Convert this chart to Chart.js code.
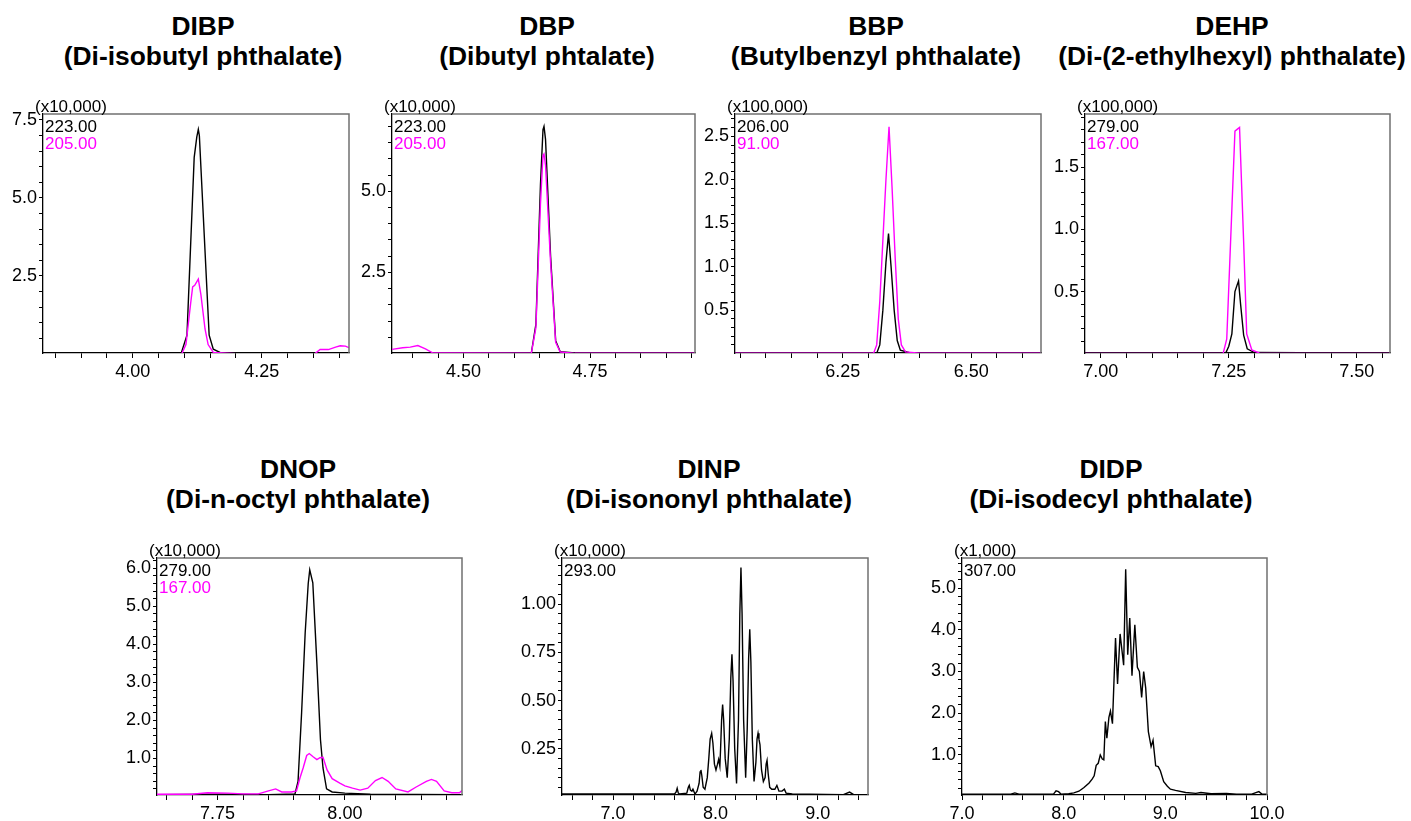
<!DOCTYPE html>
<html><head><meta charset="utf-8">
<script src="https://cdn.jsdelivr.net/npm/chart.js@4.4.1/dist/chart.umd.min.js"></script>
<style>
html,body{margin:0;padding:0;background:#fff;}
body{width:1411px;height:821px;position:relative;overflow:hidden;font-family:"Liberation Sans",Arial,sans-serif;}
.title{position:absolute;font-weight:bold;font-size:26.4px;line-height:30px;text-align:center;white-space:nowrap;transform:translateX(-50%);color:#000;}
.box{position:absolute;}
</style></head><body>
<script>
// ---------------- DATA (retention time [min], intensity [x multiplier]) ----------------
const DIBP_223 = [[3.826,0.02],[4.000,0.02],[4.094,0.03],[4.105,0.6],[4.119,6.3],[4.124,6.95],[4.127,7.2],[4.129,7.0],[4.148,0.6],[4.156,0.15],[4.169,0.05],[4.200,0.02],[4.419,0.02]];
const DIBP_205 = [[3.826,0.01],[4.095,0.01],[4.103,0.3],[4.112,1.6],[4.116,2.15],[4.120,2.2],[4.127,2.4],[4.132,1.9],[4.140,0.8],[4.146,0.3],[4.156,0.05],[4.200,0.01],[4.353,0.01],[4.363,0.14],[4.379,0.14],[4.393,0.22],[4.402,0.26],[4.412,0.25],[4.419,0.2]];
const DBP_223 = [[4.359,0.01],[4.634,0.02],[4.643,0.9],[4.652,5.2],[4.657,6.9],[4.659,7.0],[4.662,6.6],[4.672,3.0],[4.682,0.4],[4.691,0.06],[4.720,0.02],[4.957,0.01]];
const DBP_205 = [[4.359,0.13],[4.380,0.18],[4.395,0.2],[4.410,0.25],[4.425,0.15],[4.440,0.02],[4.634,0.01],[4.643,0.8],[4.652,4.6],[4.657,6.1],[4.659,6.15],[4.662,5.8],[4.672,2.8],[4.682,0.35],[4.691,0.05],[4.720,0.01],[4.957,0.01]];
const BBP_206 = [[6.040,0.003],[6.316,0.003],[6.322,0.1],[6.328,0.5],[6.334,1.05],[6.339,1.38],[6.344,1.0],[6.350,0.5],[6.356,0.15],[6.362,0.04],[6.380,0.01],[6.636,0.003]];
const BBP_91 = [[6.040,0.005],[6.310,0.005],[6.316,0.1],[6.322,0.6],[6.328,1.3],[6.334,2.0],[6.340,2.61],[6.346,1.9],[6.352,1.1],[6.358,0.4],[6.364,0.1],[6.372,0.02],[6.400,0.005],[6.636,0.005]];
const DEHP_279 = [[6.969,0.005],[7.244,0.005],[7.250,0.06],[7.256,0.16],[7.262,0.5],[7.266,0.55],[7.269,0.585],[7.273,0.4],[7.279,0.15],[7.286,0.04],[7.300,0.01],[7.565,0.005]];
const DEHP_167 = [[6.969,0.003],[7.239,0.003],[7.246,0.12],[7.262,1.79],[7.265,1.80],[7.271,1.82],[7.279,0.9],[7.285,0.16],[7.295,0.03],[7.310,0.005],[7.565,0.003]];
const DNOP_279 = [[7.631,0.05],[7.750,0.06],[7.850,0.05],[7.902,0.07],[7.908,0.4],[7.915,2.2],[7.922,4.3],[7.928,5.6],[7.931,5.96],[7.937,5.62],[7.945,3.5],[7.952,1.5],[7.957,0.75],[7.964,0.2],[7.975,0.12],[8.000,0.09],[8.050,0.06],[8.230,0.05]];
const DNOP_167 = [[7.631,0.06],[7.700,0.06],[7.730,0.1],[7.770,0.09],[7.800,0.07],[7.830,0.07],[7.850,0.15],[7.864,0.2],[7.876,0.12],[7.895,0.12],[7.905,0.15],[7.912,0.5],[7.918,0.75],[7.925,1.08],[7.930,1.13],[7.937,1.05],[7.945,0.97],[7.951,1.02],[7.957,1.03],[7.965,0.7],[7.975,0.47],[7.990,0.35],[8.000,0.28],[8.015,0.22],[8.030,0.17],[8.045,0.22],[8.060,0.42],[8.073,0.5],[8.085,0.4],[8.100,0.2],[8.124,0.12],[8.140,0.25],[8.160,0.4],[8.170,0.45],[8.180,0.4],[8.195,0.15],[8.210,0.1],[8.225,0.1],[8.230,0.16]];
const DINP_293 = [[6.501,0.015],[7.500,0.015],[7.600,0.015],[7.615,0.025],[7.626,0.045],[7.637,0.02],[7.650,0.015],[7.720,0.02],[7.735,0.05],[7.744,0.06],[7.755,0.035],[7.770,0.03],[7.780,0.04],[7.800,0.015],[7.820,0.03],[7.840,0.07],[7.850,0.13],[7.858,0.14],[7.867,0.11],[7.880,0.05],[7.897,0.04],
  [7.920,0.1],[7.935,0.2],[7.948,0.3],[7.963,0.33],[7.975,0.28],[7.990,0.17],[8.005,0.14],
  [8.020,0.17],[8.031,0.195],[8.043,0.16],
  [8.050,0.25],[8.060,0.4],[8.070,0.48],[8.080,0.4],[8.095,0.2],[8.115,0.1],
  [8.135,0.3],[8.150,0.62],[8.161,0.74],[8.172,0.6],[8.188,0.25],[8.206,0.07],
  [8.225,0.4],[8.238,0.95],[8.249,1.19],[8.260,0.95],[8.275,0.4],[8.295,0.1],
  [8.310,0.35],[8.324,0.72],[8.335,0.87],[8.346,0.7],[8.360,0.3],[8.377,0.08],
  [8.395,0.18],[8.406,0.3],[8.416,0.33],[8.425,0.3],[8.435,0.27],[8.450,0.14],[8.468,0.08],
  [8.485,0.1],[8.495,0.17],[8.504,0.19],[8.515,0.12],[8.530,0.05],[8.550,0.04],[8.580,0.04],[8.600,0.06],[8.620,0.03],[8.650,0.03],[8.673,0.04],[8.690,0.02],[8.750,0.015],[9.250,0.012],[9.310,0.025],[9.350,0.012],[9.490,0.012]];
const DIDP_307 = [[7.00,0.06],[7.30,0.06],[7.48,0.06],[7.52,0.09],[7.56,0.06],[7.90,0.06],[7.925,0.14],[7.95,0.12],[7.975,0.06],[8.05,0.07],[8.10,0.09],[8.15,0.13],[8.20,0.22],[8.25,0.33],[8.28,0.42],[8.30,0.5],[8.32,0.75],[8.34,0.8],[8.36,1.0],[8.38,0.9],[8.395,0.88],[8.41,1.8],[8.425,1.4],[8.445,1.9],[8.46,2.05],[8.48,1.75],[8.51,3.8],[8.53,2.7],[8.555,3.9],[8.59,3.15],[8.61,5.45],[8.63,3.4],[8.65,4.28],[8.672,2.9],[8.70,4.12],[8.725,3.1],[8.745,3.0],[8.767,2.38],[8.787,3.0],[8.807,2.6],[8.833,1.56],[8.86,1.2],[8.879,1.35],[8.905,0.74],[8.93,0.72],[8.951,0.62],[8.984,0.36],[9.02,0.25],[9.05,0.18],[9.10,0.15],[9.20,0.1],[9.30,0.08],[9.35,0.1],[9.45,0.07],[9.60,0.08],[9.70,0.06],[9.85,0.06],[9.92,0.12],[9.95,0.06],[10.00,0.06]];

// compound names
const COMPOUNDS = ['DIBP','DBP','BBP','DEHP','DNOP','DINP','DIDP'];
const FULL_NAMES = ['(Di-isobutyl phthalate)','(Dibutyl phtalate)','(Butylbenzyl phthalate)','(Di-(2-ethylhexyl) phthalate)','(Di-n-octyl phthalate)','(Di-isononyl phthalate)','(Di-isodecyl phthalate)'];
const MULTIPLIERS = ['(x10,000)','(x10,000)','(x100,000)','(x100,000)','(x10,000)','(x10,000)','(x1,000)'];
// ion labels (m/z) per panel
const IONS = [['223.00','205.00'],['223.00','205.00'],['206.00','91.00'],['279.00','167.00'],['279.00','167.00'],['293.00'],['307.00']];
const SERIES = [[DIBP_223,DIBP_205],[DBP_223,DBP_205],[BBP_206,BBP_91],[DEHP_279,DEHP_167],[DNOP_279,DNOP_167],[DINP_293],[DIDP_307]];
// tick labels
const X_TICKS = [['4.00','4.25'],['4.50','4.75'],['6.25','6.50'],['7.00','7.25','7.50'],['7.75','8.00'],['7.0','8.0','9.0'],['7.0','8.0','9.0','10.0']];
const Y_TICKS = [['2.5','5.0','7.5'],['2.5','5.0'],['0.5','1.0','1.5','2.0','2.5'],['0.5','1.0','1.5'],['1.0','2.0','3.0','4.0','5.0','6.0'],['0.25','0.50','0.75','1.00'],['1.0','2.0','3.0','4.0','5.0']];

// ---------------- LAYOUT (page pixels, axis ranges, minor tick steps) ----------------
const LAYOUT = [
  {L:43,  T:114, R:349,  B:353, xr:[3.826,4.419], yr:[0.03,7.69],  xs:0.05, ys:0.5,  cx:203,  ty:11},
  {L:392, T:114, R:695,  B:353, xr:[4.359,4.957], yr:[0.02,7.38],  xs:0.05, ys:0.5,  cx:547,  ty:11},
  {L:735, T:114, R:1041, B:353, xr:[6.040,6.636], yr:[0.007,2.757],xs:0.05, ys:0.1,  cx:876,  ty:11},
  {L:1085,T:114, R:1390, B:353, xr:[6.969,7.565], yr:[0.006,1.928],xs:0.05, ys:0.1,  cx:1232, ty:11},
  {L:157, T:558, R:462,  B:795, xr:[7.631,8.230], yr:[0.04,6.27],  xs:0.05, ys:0.2,  cx:298,  ty:454},
  {L:562, T:558, R:868,  B:795, xr:[6.501,9.490], yr:[0.01,1.24],  xs:0.2,  ys:0.05, cx:709,  ty:454},
  {L:962, T:558, R:1267, B:795, xr:[7.0,10.0],    yr:[0.04,5.72],  xs:0.2,  ys:0.2,  cx:1111, ty:454}
];
const COLORS = ['#000000','#ff00ff'];
const PADL=60, PADT=34, PADR=30, PADB=40;
const FONT = '"Liberation Sans", Arial, sans-serif';

function makeTicks(r, step){
  const out=[];
  for(let k=Math.ceil(r[0]/step-1e-6); k*step<=r[1]+1e-9; k++) out.push({value:+(k*step).toFixed(6)});
  return out;
}
function labelFor(v, labels){
  const m = labels.find(l => Math.abs(parseFloat(l)-v) < 1e-6);
  return m === undefined ? '' : m;
}

const framePlugin = {
  id:'frame',
  afterDraw(chart){
    const a = chart.chartArea, ctx = chart.ctx, o = chart.options.plugins.frame;
    ctx.save();
    ctx.strokeStyle = '#707070'; ctx.lineWidth = 1.5;
    ctx.beginPath();
    ctx.moveTo(a.left, a.top); ctx.lineTo(a.right, a.top); ctx.lineTo(a.right, a.bottom);
    ctx.stroke();
    ctx.font = '17px ' + FONT;
    ctx.textAlign = 'left'; ctx.textBaseline = 'alphabetic';
    ctx.fillStyle = '#000';
    ctx.fillText(o.mult, a.left - 8, a.top - 2);
    chart.data.datasets.forEach((ds, k) => {
      ctx.fillStyle = ds.borderColor;
      ctx.fillText(ds.label, a.left + 2, a.top + 17.5 + k*17.5);
    });
    ctx.restore();
  }
};

LAYOUT.forEach((p, n) => {
  const t = document.createElement('div');
  t.className = 'title';
  t.style.left = p.cx + 'px'; t.style.top = p.ty + 'px';
  const l1 = document.createElement('div'); l1.textContent = COMPOUNDS[n];
  const l2 = document.createElement('div'); l2.textContent = FULL_NAMES[n];
  t.appendChild(l1); t.appendChild(l2);
  document.body.appendChild(t);

  const d = document.createElement('div');
  d.className = 'box';
  d.style.left = (p.L - PADL) + 'px'; d.style.top = (p.T - PADT) + 'px';
  d.style.width = (p.R - p.L + PADL + PADR) + 'px';
  d.style.height = (p.B - p.T + PADT + PADB) + 'px';
  const c = document.createElement('canvas');
  d.appendChild(c); document.body.appendChild(d);

  const datasets = SERIES[n].map((s, k) => ({
    label: IONS[n][k],
    data: s.map(q => ({x:q[0], y:q[1]})),
    borderColor: COLORS[k],
    borderWidth: 1.4,
    pointRadius: 0,
    tension: 0,
    fill: false,
    order: k === 0 ? 1 : 0
  }));

  const tickFont = {size:18, family:FONT};
  new Chart(c, {
    type:'line',
    data:{datasets},
    options:{
      responsive:true, maintainAspectRatio:false, animation:false, events:[],
      layout:{padding:{left:0, top:PADT, right:PADR, bottom:0}},
      plugins:{legend:{display:false}, tooltip:{enabled:false}, frame:{mult:MULTIPLIERS[n]}},
      scales:{
        x:{type:'linear', min:p.xr[0], max:p.xr[1],
           afterFit:s=>{s.height = PADB;},
           afterBuildTicks:s=>{s.ticks = makeTicks(p.xr, p.xs);},
           ticks:{autoSkip:false, maxRotation:0, minRotation:0, padding:3, color:'#000', font:tickFont,
                  callback:v=>labelFor(v, X_TICKS[n])},
           grid:{drawOnChartArea:false, drawTicks:true, tickLength:5, color:'#000', lineWidth:1},
           border:{display:true, color:'#000', width:1.3}},
        y:{type:'linear', min:p.yr[0], max:p.yr[1],
           afterFit:s=>{s.width = PADL;},
           afterBuildTicks:s=>{s.ticks = makeTicks(p.yr, p.ys);},
           ticks:{autoSkip:false, padding:2, color:'#000', font:tickFont,
                  callback:v=>labelFor(v, Y_TICKS[n])},
           grid:{drawOnChartArea:false, drawTicks:true, tickLength:4, color:'#000', lineWidth:1},
           border:{display:true, color:'#000', width:1.3}}
      }
    },
    plugins:[framePlugin]
  });
});
</script>
</body></html>
